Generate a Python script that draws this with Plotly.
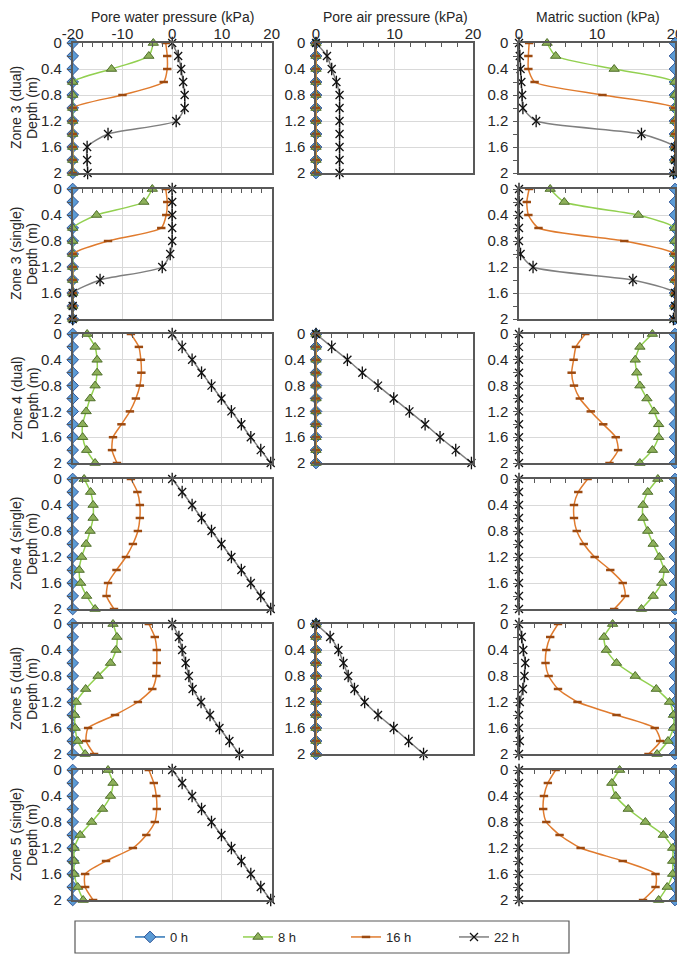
import plotly.graph_objects as go

# The page adds an 8 px body margin, so the figure is drawn 8 px in from the corner;
# design coordinates below are screen pixels and are converted with that offset.
OFF = 8
FW, FH = 685 - OFF, 956 - OFF

depth = [0, 0.2, 0.4, 0.6, 0.8, 1.0, 1.2, 1.4, 1.6, 1.8, 2.0]
times = ["0 h", "8 h", "16 h", "22 h"]
col_titles = ["Pore water pressure (kPa)", "Pore air pressure (kPa)", "Matric suction (kPa)"]
row_titles = ["Zone 3 (dual)", "Zone 3 (single)", "Zone 4 (dual)", "Zone 4 (single)",
              "Zone 5 (dual)", "Zone 5 (single)"]
depth_title = "Depth (m)"
x_ticks_pwp = [-20, -10, 0, 10, 20]
x_ticks_other = [0, 10, 20]
y_ticks = [0, 0.4, 0.8, 1.2, 1.6, 2]

# ---- Zone 3 (dual)
pwp_z3d_0h = [-20, -20, -20, -20, -20, -20, -20, -20, -20, -20, -20]
pwp_z3d_8h = [-3.8, -4.7, -12.2, -20, -20, -20, -20, -20, -20, -20, -20]
pwp_z3d_16h = [-1.3, -1.0, -1.0, -1.7, -10.0, -20, -20, -20, -20, -20, -20]
pwp_z3d_22h = [0, 1.2, 1.8, 2.2, 2.5, 2.5, 0.8, -12.9, -17.1, -17.1, -17.0]
pap_z3d_0h = [0, 0, 0, 0, 0, 0, 0, 0, 0, 0, 0]
pap_z3d_8h = [0, 0, 0, 0, 0, 0, 0, 0, 0, 0, 0]
pap_z3d_16h = [0, 0, 0, 0, 0, 0, 0, 0, 0, 0, 0]
pap_z3d_22h = [0, 1.4, 2.0, 2.6, 3.0, 3.0, 3.0, 3.0, 3.0, 3.0, 3.0]
ms_z3d_0h = [20, 20, 20, 20, 20, 20, 20, 20, 20, 20, 20]
ms_z3d_8h = [3.6, 4.7, 12.2, 20, 20, 20, 20, 20, 20, 20, 20]
ms_z3d_16h = [1.3, 1.2, 1.2, 2.0, 10.7, 20, 20, 20, 20, 20, 20]
ms_z3d_22h = [0, 0.1, 0.2, 0.3, 0.4, 0.5, 2.2, 15.7, 20, 20, 19.8]

# ---- Zone 3 (single)
pwp_z3s_0h = [-20, -20, -20, -20, -20, -20, -20, -20, -20, -20, -20]
pwp_z3s_8h = [-4.0, -5.7, -15.2, -20, -20, -20, -20, -20, -20, -20, -20]
pwp_z3s_16h = [-1.3, -1.0, -1.2, -2.2, -12.9, -20, -20, -20, -20, -20, -20]
pwp_z3s_22h = [0, 0, 0, 0, 0, -0.4, -2.0, -14.5, -20, -20, -20]
ms_z3s_0h = [20, 20, 20, 20, 20, 20, 20, 20, 20, 20, 20]
ms_z3s_8h = [4.0, 5.8, 15.3, 20, 20, 20, 20, 20, 20, 20, 20]
ms_z3s_16h = [1.3, 1.0, 1.2, 2.5, 13.5, 20, 20, 20, 20, 20, 20]
ms_z3s_22h = [0, 0, 0, 0, 0, 0.2, 1.8, 14.6, 20, 20, 19.8]

# ---- Zone 4 (dual)
pwp_z4d_0h = [-20, -20, -20, -20, -20, -20, -20, -20, -20, -20, -20]
pwp_z4d_8h = [-17.1, -15.5, -15.1, -15.1, -15.5, -16.5, -17.3, -18.0, -18.0, -17.2, -15.5]
pwp_z4d_16h = [-8.3, -6.7, -6.3, -6.2, -6.5, -7.3, -8.5, -10.2, -11.9, -12.1, -11.1]
pwp_z4d_22h = [0, 2.0, 4.0, 5.9, 7.9, 9.9, 11.9, 13.9, 15.8, 17.8, 19.8]
pap_z4d_0h = [0, 0, 0, 0, 0, 0, 0, 0, 0, 0, 0]
pap_z4d_8h = [0, 0, 0, 0, 0, 0, 0, 0, 0, 0, 0]
pap_z4d_16h = [0, 0, 0, 0, 0, 0, 0, 0, 0, 0, 0]
pap_z4d_22h = [0, 2.0, 4.0, 5.9, 7.9, 9.9, 11.9, 13.9, 15.8, 17.8, 19.8]
ms_z4d_0h = [20, 20, 20, 20, 20, 20, 20, 20, 20, 20, 20]
ms_z4d_8h = [17.1, 15.5, 14.9, 15.1, 15.5, 16.4, 17.3, 17.9, 17.9, 17.1, 15.5]
ms_z4d_16h = [8.5, 7.3, 7.0, 6.75, 7.05, 7.8, 9.2, 10.8, 12.4, 12.7, 11.6]
ms_z4d_22h = [0, 0, 0, 0, 0, 0, 0, 0, 0, 0, 0]

# ---- Zone 4 (single)
pwp_z4s_0h = [-20, -20, -20, -20, -20, -20, -20, -20, -20, -20, -20]
pwp_z4s_8h = [-17.7, -16.4, -15.9, -15.9, -16.5, -17.3, -18.2, -18.7, -18.4, -17.2, -15.5]
pwp_z4s_16h = [-8.3, -7.0, -6.5, -6.5, -6.9, -7.9, -9.3, -11.2, -12.9, -13.2, -11.7]
pwp_z4s_22h = [0, 2.0, 4.0, 5.9, 7.9, 9.9, 11.9, 13.9, 15.8, 17.8, 19.8]
ms_z4s_0h = [20, 20, 20, 20, 20, 20, 20, 20, 20, 20, 20]
ms_z4s_8h = [17.8, 16.5, 15.9, 15.9, 16.5, 17.2, 18.0, 18.6, 18.3, 17.2, 15.7]
ms_z4s_16h = [8.8, 7.6, 7.05, 7.05, 7.4, 8.3, 9.7, 11.7, 13.3, 13.6, 12.2]
ms_z4s_22h = [0, 0, 0, 0, 0, 0, 0, 0, 0, 0, 0]

# ---- Zone 5 (dual)
pwp_z5d_0h = [-20, -20, -20, -20, -20, -20, -20, -20, -20, -20, -20]
pwp_z5d_8h = [-11.9, -11.1, -11.3, -12.4, -14.9, -17.4, -19.3, -19.6, -19.5, -19.0, -17.5]
pwp_z5d_16h = [-4.7, -3.5, -3.1, -3.1, -3.2, -4.0, -6.9, -11.5, -16.9, -17.3, -15.7]
pwp_z5d_22h = [0, 1.35, 2.0, 2.7, 3.35, 4.1, 5.8, 7.6, 9.5, 11.5, 13.5]
pap_z5d_0h = [0, 0, 0, 0, 0, 0, 0, 0, 0, 0, 0]
pap_z5d_8h = [0, 0, 0, 0, 0, 0, 0, 0, 0, 0, 0]
pap_z5d_16h = [0, 0, 0, 0, 0, 0, 0, 0, 0, 0, 0]
pap_z5d_22h = [0, 1.8, 2.85, 3.5, 4.1, 4.9, 6.2, 7.9, 9.9, 11.8, 13.7]
ms_z5d_0h = [20, 20, 20, 20, 20, 20, 20, 20, 20, 20, 20]
ms_z5d_8h = [12.0, 10.9, 11.2, 12.5, 14.9, 17.6, 19.3, 19.8, 19.8, 19.1, 17.7]
ms_z5d_16h = [5.0, 4.0, 3.5, 3.4, 3.8, 5.0, 7.5, 12.5, 17.4, 18.1, 16.6]
ms_z5d_22h = [0, 0.35, 0.55, 0.8, 0.7, 0.5, 0.1, 0, 0, 0.1, 0]

# ---- Zone 5 (single)
pwp_z5s_0h = [-20, -20, -20, -20, -20, -20, -20, -20, -20, -20, -20]
pwp_z5s_8h = [-12.9, -11.9, -12.4, -14.0, -16.2, -18.5, -19.7, -19.7, -19.7, -19.0, -17.9]
pwp_z5s_16h = [-4.7, -3.7, -3.2, -3.1, -3.5, -5.2, -7.9, -13.3, -17.5, -17.5, -15.9]
pwp_z5s_22h = [0, 2.0, 4.0, 5.9, 7.9, 9.9, 11.9, 13.9, 15.8, 17.8, 19.8]
ms_z5s_0h = [20, 20, 20, 20, 20, 20, 20, 20, 20, 20, 20]
ms_z5s_8h = [12.9, 11.9, 12.4, 14.0, 16.2, 18.5, 19.7, 19.7, 19.7, 19.0, 17.9]
ms_z5s_16h = [4.7, 3.7, 3.2, 3.1, 3.5, 5.2, 7.9, 13.3, 17.5, 17.5, 15.9]
ms_z5s_22h = [0, 0, 0, 0, 0, 0, 0, 0, 0, 0, 0]

# (row, col, series for 0/8/16/22 h)
panels = [
    (0, 0, [pwp_z3d_0h, pwp_z3d_8h, pwp_z3d_16h, pwp_z3d_22h]),
    (0, 1, [pap_z3d_0h, pap_z3d_8h, pap_z3d_16h, pap_z3d_22h]),
    (0, 2, [ms_z3d_0h, ms_z3d_8h, ms_z3d_16h, ms_z3d_22h]),
    (1, 0, [pwp_z3s_0h, pwp_z3s_8h, pwp_z3s_16h, pwp_z3s_22h]),
    (1, 2, [ms_z3s_0h, ms_z3s_8h, ms_z3s_16h, ms_z3s_22h]),
    (2, 0, [pwp_z4d_0h, pwp_z4d_8h, pwp_z4d_16h, pwp_z4d_22h]),
    (2, 1, [pap_z4d_0h, pap_z4d_8h, pap_z4d_16h, pap_z4d_22h]),
    (2, 2, [ms_z4d_0h, ms_z4d_8h, ms_z4d_16h, ms_z4d_22h]),
    (3, 0, [pwp_z4s_0h, pwp_z4s_8h, pwp_z4s_16h, pwp_z4s_22h]),
    (3, 2, [ms_z4s_0h, ms_z4s_8h, ms_z4s_16h, ms_z4s_22h]),
    (4, 0, [pwp_z5d_0h, pwp_z5d_8h, pwp_z5d_16h, pwp_z5d_22h]),
    (4, 1, [pap_z5d_0h, pap_z5d_8h, pap_z5d_16h, pap_z5d_22h]),
    (4, 2, [ms_z5d_0h, ms_z5d_8h, ms_z5d_16h, ms_z5d_22h]),
    (5, 0, [pwp_z5s_0h, pwp_z5s_8h, pwp_z5s_16h, pwp_z5s_22h]),
    (5, 2, [ms_z5s_0h, ms_z5s_8h, ms_z5s_16h, ms_z5s_22h]),
]

# layout geometry (screen pixels)
COL_X = [(72.7, 271.7), (316, 473), (519, 675)]
ROW_Y = [(43, 173), (189, 319), (334, 463), (479, 609), (624, 754), (770, 900)]
X_RANGE = [[-20, 20], [0, 20], [0, 20]]


def px(sx):
    return (sx - OFF) / FW


def py(sy):
    return 1 - (sy - OFF) / FH


FONT = "Liberation Sans, Arial, sans-serif"
TXT = "#262626"
AX = "#595959"
GRID = "#D9D9D9"
FS_TITLE = 14
FS_TICK = 15
FS_LEG = 13

line_colors = ["#2E75B6", "#92D050", "#E07B2E", "#7F7F7F"]

fig = go.Figure()


def add_series(k, ti, ys, show):
    xa = "x" if k == 1 else f"x{k}"
    ya = "y" if k == 1 else f"y{k}"
    common = dict(x=ys, y=depth, xaxis=xa, yaxis=ya, cliponaxis=False,
                  legendgroup=times[ti], name=times[ti], hoverinfo="x+y")
    ln = dict(color=line_colors[ti], width=1.5, shape="spline", smoothing=0.6)
    if ti == 0:
        mk = dict(symbol="diamond", size=9, color="#5B9BD5", line=dict(color="#2F5597", width=1))
    elif ti == 1:
        mk = dict(symbol="triangle-up", size=9, color="#8DB05A", line=dict(color="#4F6F2A", width=1))
    elif ti == 2:
        mk = dict(symbol="line-ew-open", size=6, color="#9C4A10", line=dict(color="#9C4A10", width=2.5))
    else:
        mk = dict(symbol="x-thin-open", size=8, color="#111111", line=dict(color="#111111", width=1.3))
    fig.add_trace(go.Scatter(**common, mode="lines+markers", showlegend=show, line=ln, marker=mk))
    if ti == 3:
        fig.add_trace(go.Scatter(**common, mode="markers", showlegend=False,
                                 marker=dict(symbol="line-ns-open", size=9, color="#111111",
                                             line=dict(color="#111111", width=1.3))))


layout_axes = {}
for k, (r, c, series) in enumerate(panels, start=1):
    for ti, ys in enumerate(series):
        add_series(k, ti, ys, show=(k == 1))
    x0, x1 = COL_X[c]
    y0, y1 = ROW_Y[r]
    xk = "xaxis" if k == 1 else f"xaxis{k}"
    yk = "yaxis" if k == 1 else f"yaxis{k}"
    xticks = x_ticks_pwp if c == 0 else x_ticks_other
    layout_axes[xk] = dict(
        domain=[px(x0), px(x1)], anchor="y" if k == 1 else f"y{k}", side="top",
        range=X_RANGE[c], tickvals=xticks, ticktext=[str(v) for v in xticks],
        ticks="inside", ticklen=4, tickcolor=AX, tickwidth=1,
        minor=dict(dtick=2, tick0=0, ticks="inside", ticklen=4, tickcolor=AX, showgrid=False),
        showgrid=True, gridcolor=GRID, gridwidth=1,
        showline=True, linecolor=AX, linewidth=1.5, mirror=True, zeroline=False,
        showticklabels=(r == 0), ticklabelstandoff=-4, automargin=False,
        tickfont=dict(family=FONT, size=FS_TICK, color=TXT), fixedrange=True,
    )
    layout_axes[yk] = dict(
        domain=[py(y1), py(y0)], anchor="x" if k == 1 else f"x{k}",
        range=[2, 0], tickvals=y_ticks, ticktext=[f"{v:g}" for v in y_ticks],
        ticks="outside", ticklen=4, tickcolor=AX, tickwidth=1,
        minor=dict(dtick=0.2, tick0=0, ticks="outside", ticklen=4, tickcolor=AX, showgrid=False),
        showgrid=True, gridcolor=GRID, gridwidth=1,
        showline=True, linecolor=AX, linewidth=1.5, mirror=True, zeroline=False,
        automargin=False, ticklabelstandoff=2,
        tickfont=dict(family=FONT, size=FS_TICK, color=TXT), fixedrange=True,
    )

annotations = []
col_centers = [172, 395, 598]
for c, t in enumerate(col_titles):
    annotations.append(dict(text=t, x=px(col_centers[c]), y=1, xref="paper", yref="paper",
                            xanchor="center", yanchor="top", showarrow=False, borderpad=0,
                            font=dict(family=FONT, size=FS_TITLE, color=TXT)))
for r, t in enumerate(row_titles):
    yc = (ROW_Y[r][0] + ROW_Y[r][1]) / 2
    annotations.append(dict(text=t, x=px(16), y=py(yc), xref="paper", yref="paper",
                            xanchor="center", yanchor="middle", textangle=-90, showarrow=False,
                            font=dict(family=FONT, size=FS_TITLE, color=TXT)))
    annotations.append(dict(text=depth_title, x=px(32), y=py(yc), xref="paper", yref="paper",
                            xanchor="center", yanchor="middle", textangle=-90, showarrow=False,
                            font=dict(family=FONT, size=FS_TITLE, color=TXT)))

fig.update_layout(
    width=FW, height=FH, margin=dict(l=0, r=0, t=0, b=0, autoexpand=False),
    paper_bgcolor="white", plot_bgcolor="white",
    font=dict(family=FONT, size=FS_TITLE, color=TXT),
    showlegend=True,
    legend=dict(orientation="h", x=px(346), xanchor="center", y=py(937), yanchor="middle",
                bgcolor="rgba(0,0,0,0)", borderwidth=0, itemwidth=30,
                entrywidth=63, entrywidthmode="pixels",
                font=dict(family=FONT, size=FS_LEG, color=TXT)),
    annotations=annotations,
    shapes=[dict(type="rect", xref="paper", yref="paper", x0=px(75), x1=px(569),
                 y0=py(953), y1=py(921), line=dict(color=AX, width=1.2))],
    **layout_axes,
)

fig.write_html("out.html")
